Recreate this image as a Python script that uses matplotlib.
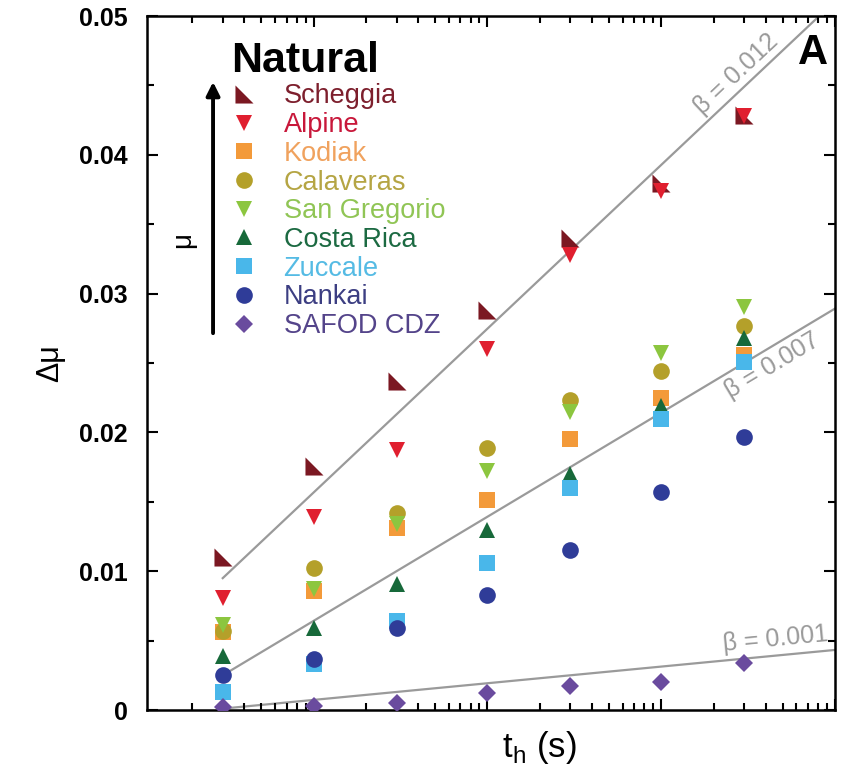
import numpy as np
import matplotlib
matplotlib.use("Agg")
import matplotlib.pyplot as plt
from matplotlib.ticker import FixedLocator, FuncFormatter, LogLocator, NullFormatter

plt.rcParams["font.family"] = ["Liberation Sans", "DejaVu Sans"]

# hold times (s)
hold_time = [3, 10, 30, 100, 300, 1000, 3000]

# healing (delta mu) per gouge
scheggia = [0.0110, 0.0176, 0.0237, 0.0288, 0.0340, 0.0380, 0.0429]
alpine = [0.0081, 0.0139, 0.0187, 0.0260, 0.0328, 0.0374, 0.0428]
kodiak = [0.0056, 0.0086, 0.0131, 0.0151, 0.0195, 0.0225, 0.0256]
calaveras = [0.0057, 0.0102, 0.0142, 0.0189, 0.0223, 0.0244, 0.0277]
san_gregorio = [0.0061, 0.0087, 0.0134, 0.0172, 0.0215, 0.0257, 0.0290]
costa_rica = [0.0039, 0.0059, 0.0091, 0.0130, 0.0170, 0.0219, 0.0268]
zuccale = [0.0013, 0.0033, 0.0064, 0.0106, 0.0160, 0.0210, 0.0251]
nankai = [0.0025, 0.0037, 0.0059, 0.0083, 0.0115, 0.0157, 0.0197]
safod = [0.0002, 0.0003, 0.0005, 0.0012, 0.0017, 0.0020, 0.0034]

names = ["Scheggia", "Alpine", "Kodiak", "Calaveras", "San Gregorio",
         "Costa Rica", "Zuccale", "Nankai", "SAFOD CDZ"]
series = [scheggia, alpine, kodiak, calaveras, san_gregorio,
          costa_rica, zuccale, nankai, safod]

# reference lines: label beta, drawn slope per decade, value at t = 3 s
fit_beta = ["0.012", "0.007", "0.001"]
fit_slope = [0.0118, 0.0075, 0.0012]
fit_start = [0.0095, 0.0025, 0.0001]
fit_label_t = [3000, 4000, 4600]

# marker styles
right_tri = [(-1, 1), (-1, -1), (1, -1), (-1, 1)]
markers = [right_tri, "v", "s", "o", "v", "^", "s", "o", "D"]
sizes = [13, 12, 11, 12, 12, 12, 11, 12, 9]
colours = ["#7b1822", "#e01f2f", "#f39a3a", "#b4a02a", "#8cc63f",
           "#17693a", "#49b7ea", "#2f3c98", "#6a4b9e"]
text_colours = ["#7d1f2d", "#c8173a", "#f0a25e", "#b5a544", "#90c555",
                "#1c6a42", "#55bbe4", "#3c3e82", "#54448a"]
grey = "#9a9a9a"

fig = plt.figure(figsize=(8.49, 7.70), dpi=100)
ax = fig.add_axes([147 / 849, 1 - 710 / 770, 688 / 849, 694 / 770])
ax.set_xscale("log")
ax.set_xlim(1.1, 10000)
ax.set_ylim(0, 0.05)

# fit lines
t_fit = np.logspace(np.log10(3), 4, 50)
for slope, start in zip(fit_slope, fit_start):
    y_fit = start + slope * np.log10(t_fit / 3)
    ax.plot(t_fit, y_fit, color=grey, lw=1.6, zorder=1)

for name, vals, m, ms, c in zip(names, series, markers, sizes, colours):
    ax.plot(hold_time, vals, linestyle="none", marker=m, ms=ms, color=c,
            markeredgewidth=0, label=name, zorder=3)

# fit labels rotated along lines
for beta, slope, start, t_lab in zip(fit_beta, fit_slope, fit_start, fit_label_t):
    y_lab = start + slope * np.log10(t_lab / 3)
    p1 = ax.transData.transform((t_lab, y_lab))
    p2 = ax.transData.transform((t_lab * 2, start + slope * np.log10(t_lab * 2 / 3)))
    angle = np.degrees(np.arctan2(p2[1] - p1[1], p2[0] - p1[0]))
    va = "top" if beta == "0.007" else "bottom"
    off = -4 if va == "top" else 3
    ax.annotate("\u03b2 = " + beta, xy=(t_lab, y_lab), xytext=(0, off),
                textcoords="offset points", rotation=angle, rotation_mode="anchor",
                ha="center", va=va, color=grey, fontsize=18, zorder=2)

# legend
leg = ax.legend(loc="upper left", bbox_to_anchor=(0.106, 0.98), frameon=False,
                handlelength=1.0, handletextpad=0.95, labelspacing=0.1,
                fontsize=19.5, labelcolor=text_colours, borderaxespad=0,
                title="Natural", title_fontproperties={"size": 31, "weight": "bold"},
                alignment="left")

# mu arrow
ax.annotate("", xy=(0.096, 0.905), xytext=(0.096, 0.543), xycoords="axes fraction",
            arrowprops=dict(arrowstyle="-|>", lw=2.8, color="black",
                            mutation_scale=20, shrinkA=0, shrinkB=0))
ax.text(0.052, 0.677, "\u03bc", transform=ax.transAxes, rotation=90,
        ha="center", va="center", fontsize=20)

ax.text(0.99, 0.975, "A", transform=ax.transAxes, ha="right", va="top",
        fontsize=30, fontweight="bold")

# axes styling
for sp in ax.spines.values():
    sp.set_linewidth(1.8)
ax.yaxis.set_major_locator(FixedLocator([0, 0.01, 0.02, 0.03, 0.04, 0.05]))
ax.yaxis.set_minor_locator(FixedLocator([0.005, 0.015, 0.025, 0.035, 0.045]))
ax.yaxis.set_major_formatter(FuncFormatter(lambda v, p: "0" if v == 0 else "%.2f" % v))
ax.xaxis.set_major_locator(LogLocator(base=10, numticks=10))
ax.xaxis.set_minor_locator(LogLocator(base=10, subs=np.arange(2, 10), numticks=10))
ax.xaxis.set_major_formatter(NullFormatter())
ax.xaxis.set_minor_formatter(NullFormatter())
ax.tick_params(which="both", direction="in", top=True, right=True, width=1.5)
ax.tick_params(which="major", length=8)
ax.tick_params(which="minor", length=5)
ax.tick_params(axis="y", which="major", pad=14, labelsize=18)
for lab in ax.get_yticklabels():
    lab.set_fontweight("bold")

ax.set_ylabel("\u0394\u03bc", fontsize=22, labelpad=10)
ax.set_xlabel("t$_\\mathregular{h}$ (s)", fontsize=25, labelpad=10)
ax.xaxis.label.set_x(0.57)

fig.savefig("out.png", dpi=100)
